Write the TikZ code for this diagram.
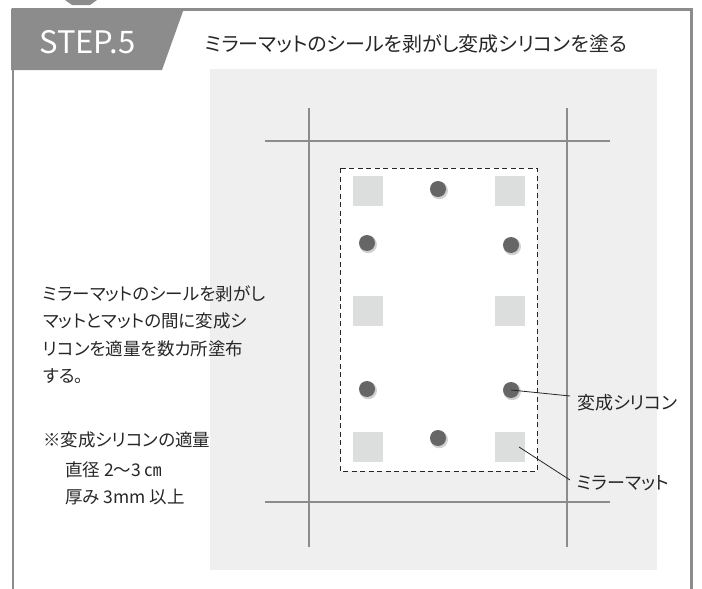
\documentclass[tikz,border=0pt]{standalone}
\usepackage{fontspec}
\setmainfont{Noto Sans CJK JP}[RawFeature={+palt}]
\definecolor{framegray}{HTML}{8C8C8C}
\definecolor{bggray}{HTML}{EFEFEF}
\definecolor{matgray}{HTML}{DCDDDD}
\definecolor{dotgray}{HTML}{666666}
\definecolor{txt}{HTML}{262626}
\tikzset{
  gridline/.style={draw=framegray,line width=2.5pt},
  mat/.style={fill=matgray,draw=none,minimum width=30pt,minimum height=30pt,inner sep=0pt,outer sep=0pt},
  dot/.style={circle,fill=dotgray,draw=none,minimum size=16pt,inner sep=0pt},
  dotshadow/.style={circle,fill=black,opacity=0.18,draw=none,minimum size=17.5pt,inner sep=0pt},
  bodytext/.style={anchor=base west,inner sep=0pt,text=txt,font=\fontsize{17.5}{22}\selectfont},
  leader/.style={draw=txt,line width=0.8pt},
}
\begin{document}
\begin{tikzpicture}[x=1pt,y=-1pt]
\useasboundingbox (0,0) rectangle (702,589);
% top arrow remnant
\fill[framegray] (65,0) -- (97,0) -- (90,5) -- (72,5) -- cycle;
% frame
\draw[framegray,line width=2.5pt] (13,592) -- (13,9.5) -- (691.5,9.5) -- (691.5,592);
% header tab
\fill[framegray] (11,8.5) -- (184,8.5) -- (162,70) -- (11,70) -- cycle;
\node[anchor=base west,inner sep=0pt,text=white,font=\fontsize{31}{36}\selectfont] (step) at (39,53) {STEP.5};
\node[anchor=base west,inner sep=0pt,text=txt,font=\fontsize{20}{24}\selectfont] (title) at (205,51.5) {ミラーマットのシールを剥がし変成シリコンを塗る};
% background
\fill[bggray] (210,69) rectangle (657,570);
% grid lines
\coordinate (vl1t) at (309,108); \coordinate (vl1b) at (309,547);
\coordinate (vl2t) at (567,108); \coordinate (vl2b) at (567,547);
\coordinate (hl1l) at (265,141); \coordinate (hl1r) at (610,141);
\coordinate (hl2l) at (265,502); \coordinate (hl2r) at (610,502);
\draw[gridline] (vl1t) -- (vl1b);
\draw[gridline] (vl2t) -- (vl2b);
\draw[gridline] (hl1l) -- (hl1r);
\draw[gridline] (hl2l) -- (hl2r);
% dashed area
\draw[fill=white,draw=txt,line width=0.9pt,dash pattern=on 5pt off 3.5pt] (340,168) rectangle (537,471);
% mats
\node[mat] (m1) at (368,191) {};
\node[mat] (m2) at (510,191) {};
\node[mat] (m3) at (368,311) {};
\node[mat] (m4) at (510,311) {};
\node[mat] (m5) at (368,447) {};
\node[mat] (m6) at (510,447) {};
% silicone dots
\foreach \n/\px/\py in {d1/438/189, d2/367/243, d3/511/245, d4/367/389, d5/511/390, d6/438/438}{
  \node[dotshadow] at (\px+1.2,\py+1.5) {};
  \node[dot] (\n) at (\px,\py) {};
}
% labels
\coordinate (ls) at (570,396);
\coordinate (lm) at (570,480);
\coordinate (ms) at (519,447);
\draw[leader] (d5.center) -- (ls);
\draw[leader] (ms) -- (lm);
\node[bodytext,font=\fontsize{18}{22}\selectfont] (lblS) at (577,409) {変成シリコン};
\node[bodytext,font=\fontsize{18}{22}\selectfont] (lblM) at (577,489) {ミラーマット};
% left text
\node[bodytext] (t1) at (43,300) {ミラーマットのシールを剥がし};
\node[bodytext] (t2) at (43,327.5) {マットとマットの間に変成シ};
\node[bodytext] (t3) at (43,355) {リコンを適量を数カ所塗布};
\node[bodytext] (t4) at (43,382.5) {する。};
\node[bodytext] (t5) at (43,446.5) {※変成シリコンの適量};
\node[bodytext] (t6) at (65,476.5) {直径 2〜3 ㎝};
\node[bodytext] (t7) at (65,503.5) {厚み 3mm 以上};
\end{tikzpicture}
\end{document}
